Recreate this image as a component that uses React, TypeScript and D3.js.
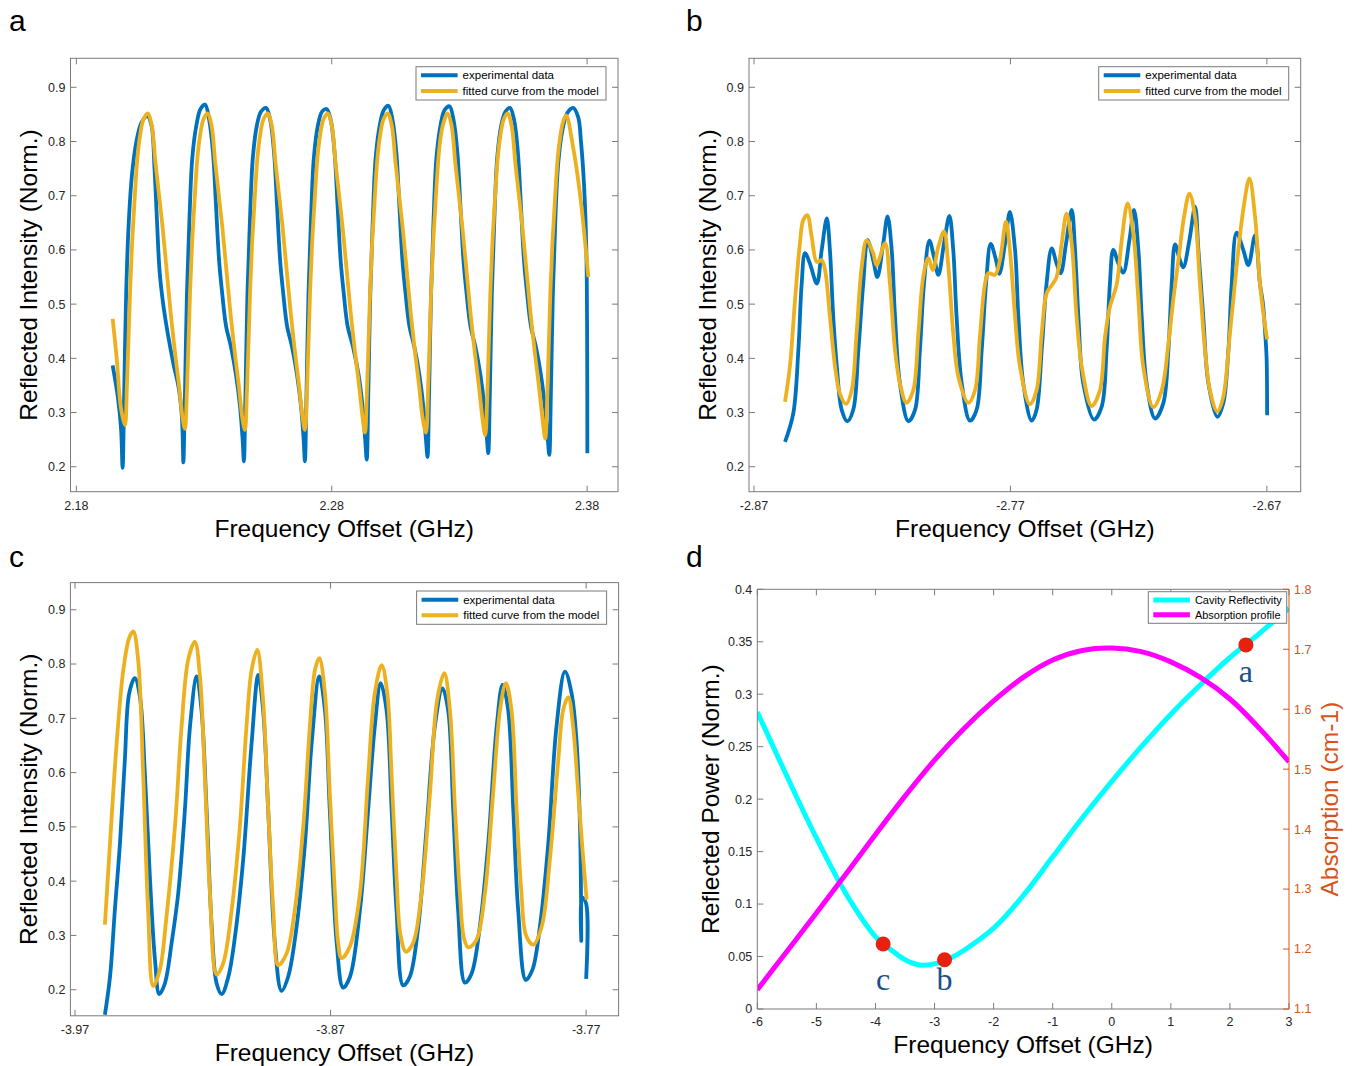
import React from 'react';
import * as d3 from 'd3';

type Pt = [number, number];

const W = 1353;
const H = 1066;
const FONT = '"Liberation Sans", Arial, Helvetica, sans-serif';
const SERIF = '"Liberation Serif", "Times New Roman", serif';
const BLUE = '#0072BD';
const YELLOW = '#EDB120';
const CYAN = '#00FFFF';
const MAGENTA = '#FF00FF';
const ORANGE = '#D95319';
const AXIS = '#7a7a7a';
const TXT = '#262626';

// ---------------- shared labels ----------------
const fringeLegend = ['experimental data', 'fitted curve from the model'];
const dLegend = ['Cavity Reflectivity', 'Absorption profile'];
const xAxisTitle = 'Frequency Offset (GHz)';
const fringeYTitle = 'Reflected Intensity (Norm.)';
const dYTitle = 'Reflected Power (Norm.)';
const dY2Title = 'Absorption (cm-1)';
const fringeYTicks = [0.2, 0.3, 0.4, 0.5, 0.6, 0.7, 0.8, 0.9];
const fringeYTickLabels = ['0.2', '0.3', '0.4', '0.5', '0.6', '0.7', '0.8', '0.9'];

// ---------------- panel a ----------------
const aXTicks = [2.18, 2.28, 2.38];
const aXTickLabels = ['2.18', '2.28', '2.38'];
const aBlue: Pt[] = [
  [2.1942,0.387],[2.1962,0.33],[2.1975,0.27],[2.1981,0.198],
  [2.1987,0.33],[2.1995,0.52],[2.2005,0.65],[2.2018,0.74],[2.2035,0.80],[2.2055,0.835],[2.2078,0.847],
  [2.2094,0.83],[2.2106,0.75],[2.2116,0.65],[2.2126,0.56],[2.2140,0.50],[2.2160,0.44],[2.2180,0.39],[2.2199,0.35],[2.2212,0.30],[2.2216,0.26],[2.2219,0.208],
  [2.2225,0.33],[2.2233,0.52],[2.2243,0.66],[2.2254,0.77],[2.2270,0.83],[2.2286,0.86],[2.2304,0.868],
  [2.2320,0.84],[2.2335,0.78],[2.2347,0.68],[2.2359,0.58],[2.2371,0.52],[2.2386,0.46],[2.2406,0.42],[2.2425,0.37],[2.2441,0.31],[2.2451,0.25],[2.2456,0.21],
  [2.2462,0.33],[2.2470,0.52],[2.2480,0.66],[2.2491,0.77],[2.2507,0.83],[2.2523,0.855],[2.2543,0.862],
  [2.2559,0.84],[2.2574,0.78],[2.2586,0.68],[2.2598,0.58],[2.2610,0.52],[2.2625,0.46],[2.2645,0.42],[2.2664,0.37],[2.2680,0.31],[2.2690,0.25],[2.2695,0.21],
  [2.2701,0.33],[2.2709,0.52],[2.2719,0.66],[2.2730,0.77],[2.2746,0.83],[2.2762,0.855],[2.2780,0.86],
  [2.2796,0.84],[2.2811,0.78],[2.2823,0.68],[2.2835,0.58],[2.2847,0.52],[2.2862,0.46],[2.2884,0.42],[2.2905,0.37],[2.2921,0.31],[2.2931,0.25],[2.2937,0.213],
  [2.2943,0.33],[2.2951,0.52],[2.2961,0.66],[2.2972,0.77],[2.2988,0.83],[2.3004,0.858],[2.3022,0.866],
  [2.3038,0.84],[2.3053,0.78],[2.3065,0.68],[2.3077,0.58],[2.3089,0.52],[2.3104,0.46],[2.3124,0.42],[2.3143,0.37],[2.3159,0.31],[2.3169,0.25],[2.3175,0.218],
  [2.3181,0.33],[2.3189,0.52],[2.3199,0.66],[2.3210,0.77],[2.3226,0.83],[2.3242,0.858],[2.3261,0.865],
  [2.3277,0.84],[2.3292,0.78],[2.3304,0.68],[2.3316,0.58],[2.3328,0.52],[2.3343,0.46],[2.3363,0.42],[2.3382,0.37],[2.3398,0.31],[2.3408,0.25],[2.3413,0.225],
  [2.3419,0.33],[2.3427,0.52],[2.3437,0.66],[2.3448,0.77],[2.3464,0.83],[2.3480,0.855],[2.3498,0.862],
  [2.3514,0.84],[2.3529,0.78],[2.3541,0.68],[2.3553,0.58],[2.3565,0.52],[2.3580,0.46],[2.3600,0.42],[2.3619,0.37],[2.3635,0.31],[2.3646,0.25],[2.3652,0.222],
  [2.3658,0.33],[2.3666,0.52],[2.3676,0.66],[2.3687,0.76],[2.3703,0.82],[2.3722,0.852],[2.3745,0.862],
  [2.3765,0.845],[2.3776,0.80],[2.3788,0.72],[2.3797,0.60],[2.3800,0.45],[2.3801,0.225],
];
const aYellow: Pt[] = [
  [2.1942,0.473],[2.1958,0.40],[2.1974,0.31],[2.1990,0.277],
  [2.1998,0.35],[2.2010,0.52],[2.2019,0.62],[2.2029,0.70],[2.2039,0.77],[2.2049,0.81],[2.2062,0.84],[2.2079,0.852],
  [2.2095,0.83],[2.2110,0.76],[2.2138,0.64],[2.2169,0.485],[2.2189,0.40],[2.2202,0.35],[2.2216,0.29],[2.2225,0.27],
  [2.2233,0.34],[2.2245,0.52],[2.2254,0.62],[2.2264,0.70],[2.2274,0.77],[2.2284,0.81],[2.2297,0.84],[2.2313,0.852],
  [2.2329,0.83],[2.2344,0.76],[2.2372,0.64],[2.2403,0.485],[2.2423,0.40],[2.2436,0.35],[2.2450,0.29],[2.2460,0.268],
  [2.2468,0.34],[2.2480,0.52],[2.2489,0.62],[2.2499,0.70],[2.2509,0.77],[2.2519,0.81],[2.2532,0.84],[2.2549,0.852],
  [2.2565,0.83],[2.2580,0.76],[2.2608,0.64],[2.2639,0.485],[2.2659,0.40],[2.2672,0.35],[2.2686,0.29],[2.2695,0.268],
  [2.2703,0.34],[2.2715,0.52],[2.2724,0.62],[2.2734,0.70],[2.2744,0.77],[2.2754,0.81],[2.2767,0.84],[2.2784,0.852],
  [2.2800,0.83],[2.2815,0.76],[2.2843,0.64],[2.2874,0.485],[2.2894,0.40],[2.2907,0.35],[2.2921,0.29],[2.2930,0.263],
  [2.2938,0.34],[2.2950,0.52],[2.2959,0.62],[2.2969,0.70],[2.2979,0.77],[2.2989,0.81],[2.3002,0.84],[2.3019,0.852],
  [2.3035,0.83],[2.3050,0.76],[2.3078,0.64],[2.3109,0.485],[2.3129,0.40],[2.3142,0.35],[2.3156,0.29],[2.3169,0.263],
  [2.3177,0.34],[2.3189,0.52],[2.3198,0.62],[2.3208,0.70],[2.3218,0.77],[2.3227,0.81],[2.3238,0.835],[2.3253,0.852],
  [2.3269,0.83],[2.3284,0.76],[2.3312,0.64],[2.3343,0.485],[2.3363,0.40],[2.3376,0.35],[2.3390,0.29],[2.3401,0.258],
  [2.3409,0.33],[2.3421,0.52],[2.3430,0.62],[2.3440,0.70],[2.3450,0.77],[2.3460,0.81],[2.3473,0.84],[2.3488,0.852],
  [2.3504,0.83],[2.3519,0.76],[2.3547,0.64],[2.3578,0.485],[2.3598,0.40],[2.3611,0.35],[2.3625,0.29],[2.3636,0.252],
  [2.3644,0.33],[2.3656,0.52],[2.3665,0.62],[2.3675,0.70],[2.3685,0.77],[2.3695,0.81],[2.3705,0.835],[2.3718,0.848],
  [2.3745,0.79],[2.3773,0.70],[2.3805,0.55],
];

// ---------------- panel b ----------------
const bXTicks = [-2.87, -2.77, -2.67];
const bXTickLabels = ['-2.87', '-2.77', '-2.67'];
const bBlue: Pt[] = [
  [-2.8579,0.246],[-2.8547,0.298],[-2.8527,0.415],[-2.8514,0.538],[-2.8501,0.594],[-2.8482,0.575],[-2.8455,0.538],[-2.8436,0.600],[-2.8416,0.658],[-2.8404,0.600],[-2.8391,0.477],[-2.8377,0.385],[-2.8358,0.305],[-2.8336,0.284],
  [-2.8313,0.305],[-2.8293,0.415],[-2.8274,0.538],[-2.8257,0.618],[-2.8235,0.581],[-2.8219,0.550],[-2.8196,0.612],[-2.8179,0.662],[-2.8163,0.600],[-2.8150,0.477],[-2.8131,0.354],[-2.8098,0.284],
  [-2.8072,0.305],[-2.8053,0.415],[-2.8037,0.538],[-2.8016,0.617],[-2.7998,0.587],[-2.7981,0.554],[-2.7959,0.612],[-2.7938,0.663],[-2.7923,0.600],[-2.7910,0.477],[-2.7890,0.354],[-2.7858,0.285],
  [-2.7832,0.305],[-2.7812,0.415],[-2.7795,0.538],[-2.7777,0.611],[-2.7756,0.581],[-2.7743,0.556],[-2.7721,0.612],[-2.7702,0.670],[-2.7682,0.600],[-2.7669,0.477],[-2.7650,0.354],[-2.7617,0.285],
  [-2.7598,0.305],[-2.7578,0.415],[-2.7559,0.538],[-2.7539,0.603],[-2.7520,0.575],[-2.7504,0.557],[-2.7483,0.612],[-2.7461,0.674],[-2.7448,0.600],[-2.7435,0.477],[-2.7416,0.354],[-2.7374,0.287],
  [-2.7344,0.311],[-2.7325,0.415],[-2.7312,0.538],[-2.7299,0.600],[-2.7279,0.575],[-2.7260,0.558],[-2.7236,0.618],[-2.7218,0.674],[-2.7201,0.600],[-2.7188,0.477],[-2.7169,0.354],[-2.7136,0.289],
  [-2.7104,0.317],[-2.7084,0.415],[-2.7071,0.538],[-2.7058,0.610],[-2.7039,0.581],[-2.7026,0.568],[-2.7002,0.618],[-2.6980,0.680],[-2.6967,0.600],[-2.6948,0.477],[-2.6928,0.354],[-2.6893,0.292],
  [-2.6870,0.317],[-2.6850,0.415],[-2.6837,0.538],[-2.6818,0.632],[-2.6792,0.600],[-2.6772,0.572],[-2.6746,0.627],[-2.6727,0.538],[-2.6715,0.500],[-2.6707,0.450],[-2.6701,0.400],[-2.6699,0.295],
];
const bYellow: Pt[] = [
  [-2.8579,0.320],[-2.8560,0.385],[-2.8540,0.508],[-2.8521,0.612],[-2.8508,0.655],[-2.8492,0.664],[-2.8475,0.624],[-2.8455,0.578],[-2.8436,0.581],[-2.8423,0.563],[-2.8404,0.477],[-2.8384,0.385],[-2.8365,0.335],[-2.8341,0.316],
  [-2.8319,0.341],[-2.8300,0.446],[-2.8280,0.569],[-2.8261,0.617],[-2.8235,0.594],[-2.8222,0.572],[-2.8189,0.612],[-2.8170,0.538],[-2.8150,0.415],[-2.8131,0.354],[-2.8105,0.318],
  [-2.8079,0.341],[-2.8059,0.446],[-2.8040,0.550],[-2.8020,0.585],[-2.8003,0.563],[-2.7981,0.606],[-2.7959,0.634],[-2.7942,0.569],[-2.7923,0.446],[-2.7903,0.366],[-2.7864,0.318],
  [-2.7838,0.341],[-2.7819,0.440],[-2.7799,0.538],[-2.7786,0.557],[-2.7760,0.554],[-2.7741,0.581],[-2.7717,0.652],[-2.7702,0.600],[-2.7682,0.477],[-2.7663,0.385],[-2.7624,0.315],
  [-2.7598,0.341],[-2.7578,0.446],[-2.7559,0.520],[-2.7539,0.535],[-2.7520,0.550],[-2.7500,0.612],[-2.7481,0.667],[-2.7461,0.612],[-2.7442,0.477],[-2.7422,0.385],[-2.7383,0.312],
  [-2.7351,0.341],[-2.7331,0.440],[-2.7312,0.495],[-2.7285,0.538],[-2.7266,0.618],[-2.7243,0.686],[-2.7221,0.631],[-2.7201,0.508],[-2.7182,0.385],[-2.7143,0.310],
  [-2.7110,0.341],[-2.7084,0.427],[-2.7065,0.508],[-2.7045,0.581],[-2.7023,0.661],[-2.7002,0.704],[-2.6980,0.661],[-2.6961,0.538],[-2.6941,0.415],[-2.6922,0.341],[-2.6893,0.302],
  [-2.6870,0.329],[-2.6844,0.446],[-2.6818,0.569],[-2.6792,0.674],[-2.6768,0.732],[-2.6746,0.661],[-2.6727,0.538],[-2.6710,0.470],[-2.6699,0.435],
];

// ---------------- panel c ----------------
const cXTicks = [-3.97, -3.87, -3.77];
const cXTickLabels = ['-3.97', '-3.87', '-3.77'];
const cBlue: Pt[] = [
  [-3.9583,0.154],[-3.9563,0.224],[-3.9544,0.347],[-3.9524,0.470],[-3.9505,0.623],[-3.9488,0.746],[-3.9466,0.774],[-3.9446,0.740],[-3.9426,0.593],[-3.9407,0.408],[-3.9387,0.255],[-3.9370,0.192],
  [-3.9348,0.212],[-3.9322,0.286],[-3.9296,0.378],[-3.9270,0.531],[-3.9250,0.685],[-3.9224,0.777],[-3.9205,0.715],[-3.9185,0.531],[-3.9165,0.316],[-3.9146,0.212],[-3.9126,0.192],
  [-3.9100,0.224],[-3.9074,0.298],[-3.9042,0.439],[-3.9009,0.654],[-3.8983,0.780],[-3.8964,0.715],[-3.8944,0.531],[-3.8918,0.286],[-3.8892,0.198],
  [-3.8866,0.224],[-3.8833,0.316],[-3.8800,0.470],[-3.8774,0.654],[-3.8744,0.777],[-3.8722,0.715],[-3.8703,0.531],[-3.8676,0.286],[-3.8651,0.204],
  [-3.8624,0.224],[-3.8585,0.347],[-3.8553,0.531],[-3.8527,0.685],[-3.8504,0.765],[-3.8481,0.715],[-3.8461,0.531],[-3.8442,0.347],[-3.8416,0.208],
  [-3.8390,0.224],[-3.8357,0.316],[-3.8324,0.500],[-3.8292,0.685],[-3.8262,0.755],[-3.8240,0.715],[-3.8220,0.531],[-3.8201,0.347],[-3.8174,0.213],
  [-3.8148,0.230],[-3.8116,0.316],[-3.8083,0.470],[-3.8050,0.685],[-3.8027,0.762],[-3.8005,0.715],[-3.7985,0.531],[-3.7966,0.347],[-3.7936,0.218],
  [-3.7910,0.237],[-3.7881,0.316],[-3.7848,0.470],[-3.7816,0.685],[-3.7783,0.786],[-3.7757,0.746],[-3.7737,0.654],[-3.7724,0.500],[-3.7720,0.370],[-3.7719,0.290],[-3.7717,0.370],[-3.7701,0.360],[-3.7700,0.220],
];
const cYellow: Pt[] = [
  [-3.9583,0.320],[-3.9563,0.470],[-3.9537,0.654],[-3.9511,0.789],[-3.9488,0.848],[-3.9472,0.860],[-3.9453,0.808],[-3.9433,0.593],[-3.9414,0.347],[-3.9394,0.207],
  [-3.9368,0.237],[-3.9342,0.335],[-3.9309,0.500],[-3.9283,0.685],[-3.9257,0.808],[-3.9231,0.841],[-3.9211,0.777],[-3.9192,0.593],[-3.9172,0.378],[-3.9146,0.228],
  [-3.9120,0.249],[-3.9087,0.347],[-3.9055,0.500],[-3.9029,0.685],[-3.9009,0.789],[-3.8987,0.826],[-3.8966,0.746],[-3.8944,0.531],[-3.8924,0.347],[-3.8905,0.245],
  [-3.8872,0.267],[-3.8840,0.347],[-3.8807,0.500],[-3.8781,0.685],[-3.8761,0.789],[-3.8744,0.811],[-3.8722,0.746],[-3.8703,0.562],[-3.8683,0.378],[-3.8670,0.285],[-3.8657,0.258],
  [-3.8624,0.280],[-3.8585,0.378],[-3.8553,0.593],[-3.8527,0.746],[-3.8500,0.798],[-3.8478,0.746],[-3.8461,0.593],[-3.8442,0.408],[-3.8426,0.300],[-3.8405,0.270],
  [-3.8377,0.286],[-3.8344,0.378],[-3.8311,0.562],[-3.8283,0.734],[-3.8255,0.783],[-3.8233,0.715],[-3.8213,0.531],[-3.8194,0.378],[-3.8178,0.295],[-3.8161,0.278],
  [-3.8129,0.292],[-3.8096,0.378],[-3.8064,0.562],[-3.8037,0.715],[-3.8014,0.765],[-3.7992,0.715],[-3.7972,0.531],[-3.7953,0.378],[-3.7935,0.300],[-3.7907,0.283],
  [-3.7874,0.316],[-3.7842,0.439],[-3.7809,0.623],[-3.7790,0.715],[-3.7770,0.739],[-3.7751,0.685],[-3.7731,0.562],[-3.7711,0.439],[-3.7698,0.366],
];

// ---------------- panel d ----------------
const dXTicks = [-6, -5, -4, -3, -2, -1, 0, 1, 2, 3];
const dXTickLabels = ['-6', '-5', '-4', '-3', '-2', '-1', '0', '1', '2', '3'];
const dYTicks = [0, 0.05, 0.1, 0.15, 0.2, 0.25, 0.3, 0.35, 0.4];
const dYTickLabels = ['0', '0.05', '0.1', '0.15', '0.2', '0.25', '0.3', '0.35', '0.4'];
const dY2Ticks = [1.1, 1.2, 1.3, 1.4, 1.5, 1.6, 1.7, 1.8];
const dY2TickLabels = ['1.1', '1.2', '1.3', '1.4', '1.5', '1.6', '1.7', '1.8'];
const dFreq = [-6, -5.5, -5, -4.5, -4, -3.75, -3.5, -3.25, -3, -2.75, -2.5, -2, -1.5, -1, -0.5, 0, 0.5, 1, 1.5, 2, 2.5, 3];
const dReflectivity = [0.283, 0.222, 0.163, 0.110, 0.069, 0.057, 0.047, 0.042, 0.043, 0.048, 0.056, 0.077, 0.108, 0.145, 0.182, 0.217, 0.250, 0.281, 0.309, 0.335, 0.358, 0.382];
const dAbsFreq = [-6, -5.5, -5, -4.5, -4, -3.5, -3, -2.5, -2, -1.5, -1, -0.5, 0, 0.5, 1, 1.5, 2, 2.5, 3];
const dAbsorption = [1.132, 1.196, 1.260, 1.325, 1.391, 1.455, 1.515, 1.568, 1.614, 1.653, 1.682, 1.698, 1.702, 1.696, 1.679, 1.653, 1.617, 1.568, 1.512];
const dMarkerX = [2.27, -2.83, -3.87];
const dMarkerY = [0.347, 0.047, 0.062];
const dMarkerLabels = ['a', 'b', 'c'];
const dMarkerLabelDy = [37, 30, 46];

// ---------------- layout ----------------
interface Box { x0: number; x1: number; y0: number; y1: number }

interface FringeProps {
  letter: string;
  box: Box;
  xDomain: [number, number];
  yDomain: [number, number];
  xTicks: number[];
  xTickLabels: string[];
  blue: Pt[];
  yellow: Pt[];
  tickLabelY: number;
  xTitleY: number;
  yTitleX: number;
  letterX: number;
  letterY: number;
}

const TICK = 6;

function Legend({ x, y, w, h, colors, labels, lw, fs }: { x: number; y: number; w: number; h: number; colors: string[]; labels: string[]; lw: number; fs: number }) {
  const rows = [y + h * 0.26, y + h * 0.73];
  return (
    <g>
      <rect x={x} y={y} width={w} height={h} fill="#fff" stroke={AXIS} strokeWidth={1} />
      {labels.map((l, i) => (
        <g key={l}>
          <line x1={x + 5} x2={x + 41.6} y1={rows[i]} y2={rows[i]} stroke={colors[i]} strokeWidth={lw} />
          <text x={x + 46.6} y={rows[i]} dy="0.35em" fontSize={fs} fill="#000">{l}</text>
        </g>
      ))}
    </g>
  );
}

function FringePanel(p: FringeProps) {
  const { x0, x1, y0, y1 } = p.box;
  const x = d3.scaleLinear().domain(p.xDomain).range([x0, x1]);
  const y = d3.scaleLinear().domain(p.yDomain).range([y1, y0]);
  const line = d3.line<Pt>().x(d => x(d[0])).y(d => y(d[1])).curve(d3.curveCatmullRom.alpha(0.5));
  const clipId = `clip-${p.letter}`;
  const lgW = 190;
  const lgH = 33.3;
  return (
    <g>
      <defs>
        <clipPath id={clipId}><rect x={x0} y={y0} width={x1 - x0} height={y1 - y0} /></clipPath>
      </defs>
      <g clipPath={`url(#${clipId})`}>
        <path d={line(p.blue) || ''} fill="none" stroke={BLUE} strokeWidth={3.8} strokeLinejoin="round" />
        <path d={line(p.yellow) || ''} fill="none" stroke={YELLOW} strokeWidth={3.8} strokeLinejoin="round" />
      </g>
      <rect x={x0} y={y0} width={x1 - x0} height={y1 - y0} fill="none" stroke={AXIS} strokeWidth={1} />
      {p.xTicks.map((t, i) => (
        <g key={`x${i}`}>
          <line x1={x(t)} x2={x(t)} y1={y1} y2={y1 - TICK} stroke={AXIS} />
          <line x1={x(t)} x2={x(t)} y1={y0} y2={y0 + TICK} stroke={AXIS} />
          <text x={x(t)} y={p.tickLabelY} textAnchor="middle" fontSize={12.5} fill={TXT}>{p.xTickLabels[i]}</text>
        </g>
      ))}
      {fringeYTicks.map((t, i) => (
        <g key={`y${i}`}>
          <line x1={x0} x2={x0 + TICK} y1={y(t)} y2={y(t)} stroke={AXIS} />
          <line x1={x1} x2={x1 - TICK} y1={y(t)} y2={y(t)} stroke={AXIS} />
          <text x={x0 - 5} y={y(t)} dy="0.35em" textAnchor="end" fontSize={12.5} fill={TXT}>{fringeYTickLabels[i]}</text>
        </g>
      ))}
      <Legend x={x1 - 12 - lgW} y={y0 + 8.4} w={lgW} h={lgH} colors={[BLUE, YELLOW]} labels={fringeLegend} lw={4} fs={11.5} />
      <text x={(x0 + x1) / 2} y={p.xTitleY} textAnchor="middle" fontSize={24.5} fill="#000">{xAxisTitle}</text>
      <text transform={`translate(${p.yTitleX},${(y0 + y1) / 2}) rotate(-90)`} textAnchor="middle" fontSize={24.5} fill="#000">{fringeYTitle}</text>
      <text x={p.letterX} y={p.letterY} fontSize={30} fill="#000">{p.letter}</text>
    </g>
  );
}

function PanelD() {
  const box: Box = { x0: 757.3, x1: 1289, y0: 589.3, y1: 1009 };
  const { x0, x1, y0, y1 } = box;
  const x = d3.scaleLinear().domain([-6, 3]).range([x0, x1]);
  const y = d3.scaleLinear().domain([0, 0.4]).range([y1, y0]);
  const y2 = d3.scaleLinear().domain([1.1, 1.8]).range([y1, y0]);
  const refl: Pt[] = dFreq.map((f, i) => [f, dReflectivity[i]]);
  const abs: Pt[] = dAbsFreq.map((f, i) => [f, dAbsorption[i]]);
  const lineL = d3.line<Pt>().x(d => x(d[0])).y(d => y(d[1])).curve(d3.curveCatmullRom.alpha(0.5));
  const lineR = d3.line<Pt>().x(d => x(d[0])).y(d => y2(d[1])).curve(d3.curveCatmullRom.alpha(0.5));
  return (
    <g>
      <defs>
        <clipPath id="clip-d"><rect x={x0} y={y0} width={x1 - x0} height={y1 - y0} /></clipPath>
      </defs>
      <g clipPath="url(#clip-d)">
        <path d={lineL(refl) || ''} fill="none" stroke={CYAN} strokeWidth={5} />
        <path d={lineR(abs) || ''} fill="none" stroke={MAGENTA} strokeWidth={5} />
      </g>
      {dMarkerX.map((m, i) => (
        <g key={`m${i}`}>
          <circle cx={x(m)} cy={y(dMarkerY[i])} r={7.5} fill="#e8200f" />
          <text x={x(m)} y={y(dMarkerY[i]) + dMarkerLabelDy[i]} textAnchor="middle" fontFamily={SERIF} fontSize={32} fill="#1b4f8c">{dMarkerLabels[i]}</text>
        </g>
      ))}
      <line x1={x0} x2={x1} y1={y0} y2={y0} stroke={AXIS} />
      <line x1={x0} x2={x1} y1={y1} y2={y1} stroke={AXIS} />
      <line x1={x0} x2={x0} y1={y0} y2={y1} stroke={AXIS} />
      <line x1={x1} x2={x1} y1={y0} y2={y1} stroke={ORANGE} />
      {dXTicks.map((t, i) => (
        <g key={`x${i}`}>
          <line x1={x(t)} x2={x(t)} y1={y1} y2={y1 - TICK} stroke={AXIS} />
          <line x1={x(t)} x2={x(t)} y1={y0} y2={y0 + TICK} stroke={AXIS} />
          <text x={x(t)} y={1026} textAnchor="middle" fontSize={12.5} fill={TXT}>{dXTickLabels[i]}</text>
        </g>
      ))}
      {dYTicks.map((t, i) => (
        <g key={`y${i}`}>
          <line x1={x0} x2={x0 + TICK} y1={y(t)} y2={y(t)} stroke={AXIS} />
          <text x={x0 - 5} y={y(t)} dy="0.35em" textAnchor="end" fontSize={12.5} fill={TXT}>{dYTickLabels[i]}</text>
        </g>
      ))}
      {dY2Ticks.map((t, i) => (
        <g key={`r${i}`}>
          <line x1={x1} x2={x1 - TICK} y1={y2(t)} y2={y2(t)} stroke={ORANGE} />
          <text x={x1 + 5} y={y2(t)} dy="0.35em" textAnchor="start" fontSize={12.5} fill={ORANGE}>{dY2TickLabels[i]}</text>
        </g>
      ))}
      <Legend x={1148.3} y={591.7} w={138.4} h={31.6} colors={[CYAN, MAGENTA]} labels={dLegend} lw={5} fs={11} />
      <text x={(x0 + x1) / 2} y={1053} textAnchor="middle" fontSize={24.5} fill="#000">{xAxisTitle}</text>
      <text transform={`translate(719,${(y0 + y1) / 2}) rotate(-90)`} textAnchor="middle" fontSize={24.5} fill="#000">{dYTitle}</text>
      <text transform={`translate(1338,${(y0 + y1) / 2}) rotate(-90)`} textAnchor="middle" fontSize={24.5} fill={ORANGE}>{dY2Title}</text>
      <text x={686} y={567} fontSize={30} fill="#000">d</text>
    </g>
  );
}

export default function App() {
  return (
    <svg width={W} height={H} viewBox={`0 0 ${W} ${H}`} style={{ position: 'absolute', left: 0, top: 0, background: '#fff' }} fontFamily={FONT}>
      <rect x={0} y={0} width={W} height={H} fill="#fff" />
      <FringePanel letter="a" box={{ x0: 70.5, x1: 618, y0: 58.3, y1: 491.7 }} xDomain={[2.1777, 2.3921]} yDomain={[0.154, 0.9535]}
        xTicks={aXTicks} xTickLabels={aXTickLabels} blue={aBlue} yellow={aYellow}
        tickLabelY={509.5} xTitleY={537} yTitleX={37} letterX={9} letterY={31} />
      <FringePanel letter="b" box={{ x0: 749, x1: 1300.7, y0: 58.3, y1: 491.7 }} xDomain={[-2.87195, -2.6568]} yDomain={[0.154, 0.9535]}
        xTicks={bXTicks} xTickLabels={bXTickLabels} blue={bBlue} yellow={bYellow}
        tickLabelY={509.5} xTitleY={537} yTitleX={716} letterX={686} letterY={31} />
      <FringePanel letter="c" box={{ x0: 70.4, x1: 618.6, y0: 582.6, y1: 1015.8 }} xDomain={[-3.9718, -3.7573]} yDomain={[0.152, 0.95]}
        xTicks={cXTicks} xTickLabels={cXTickLabels} blue={cBlue} yellow={cYellow}
        tickLabelY={1033.5} xTitleY={1061} yTitleX={37} letterX={9} letterY={567} />
      <PanelD />
    </svg>
  );
}
